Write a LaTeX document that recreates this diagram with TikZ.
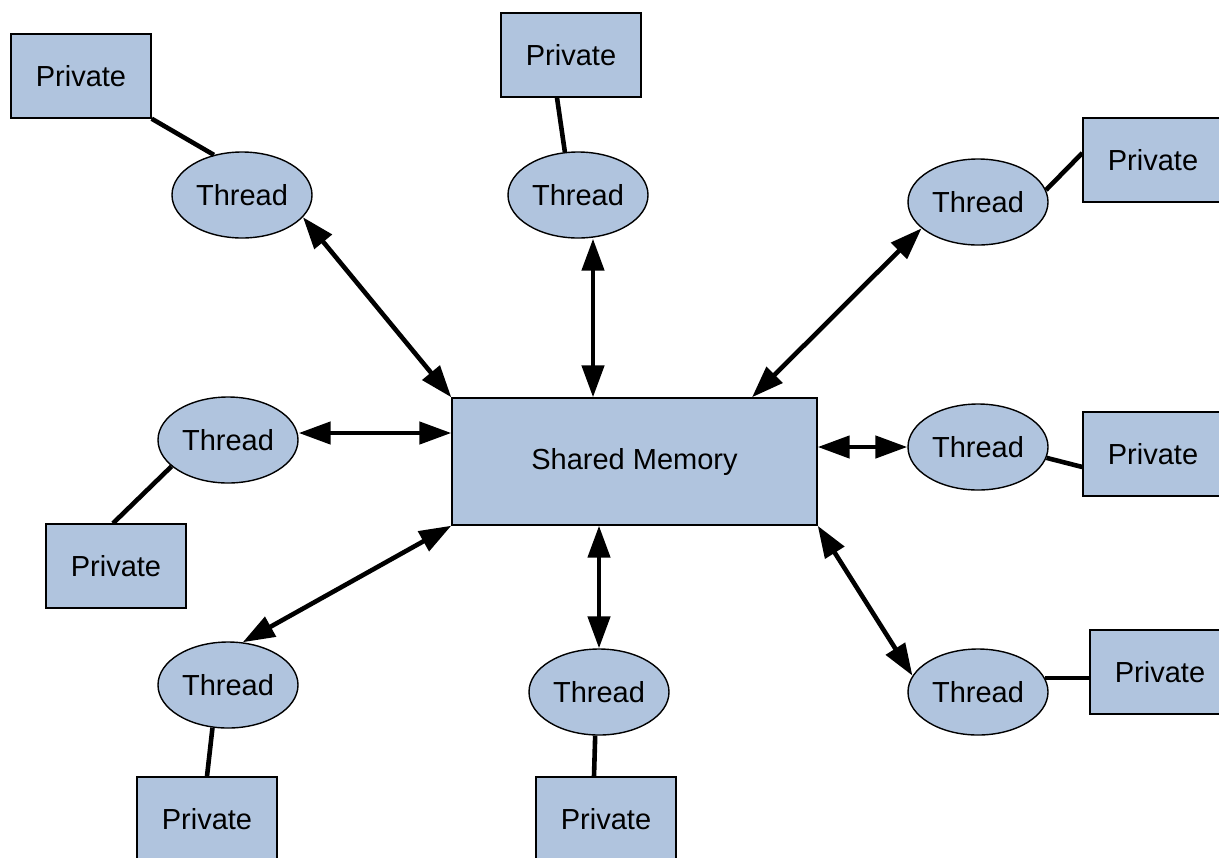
\documentclass[tikz,border=0pt]{standalone}
\usepackage{fontspec}
\setmainfont{Liberation Sans}
\usetikzlibrary{arrows.meta,shapes.geometric}
\definecolor{boxfill}{RGB}{176,196,222}
\tikzset{
  every node/.style={font=\fontsize{14.5}{17}\selectfont},
  privbox/.style={draw=black, line width=0.7pt, fill=boxfill, rectangle,
    minimum width=70pt, minimum height=42pt, inner sep=0pt},
  memory/.style={draw=black, line width=0.7pt, fill=boxfill, rectangle,
    minimum width=182.5pt, minimum height=63.5pt, inner sep=0pt},
  thread/.style={draw=black, line width=0.7pt, fill=boxfill, ellipse,
    minimum width=70pt, minimum height=43pt, inner sep=0pt},
  biarrow/.style={line width=2.3pt,
    {Triangle[length=16pt,width=11pt]}-{Triangle[length=16pt,width=11pt]}},
  link/.style={line width=2.3pt}
}
\begin{document}
\begin{tikzpicture}[x=0.5pt,y=-0.5pt]
\useasboundingbox (0,0) rectangle (1219,857);

% shared memory in the middle
\node[memory] (sm) at (634.5,461.5) {Shared Memory};

% threads
\node[thread] (t1) at (242,195) {Thread};
\node[thread] (t2) at (578,195) {Thread};
\node[thread] (t3) at (978,202) {Thread};
\node[thread] (t4) at (228,440) {Thread};
\node[thread] (t5) at (978,447) {Thread};
\node[thread] (t6) at (228,685) {Thread};
\node[thread] (t7) at (599,692) {Thread};
\node[thread] (t8) at (978,692) {Thread};

% private memories
\node[privbox] (p1) at (81,76) {Private};
\node[privbox] (p2) at (571,55) {Private};
\node[privbox] (p3) at (1153,160) {Private};
\node[privbox] (p4) at (1153,454) {Private};
\node[privbox] (p5) at (116,566) {Private};
\node[privbox] (p6) at (1160,672) {Private};
\node[privbox] (p7) at (207,819) {Private};
\node[privbox] (p8) at (606,819) {Private};

% thread <-> shared memory
\draw[biarrow] (t1.-20) -- (sm.north west);
\draw[biarrow] ([xshift=7.5pt]t2.south) -- ([xshift=7.5pt]t2.south |- sm.north);
\draw[biarrow] (t3.205) -- ([xshift=58.75pt]sm.north);
\draw[biarrow] ([yshift=3.5pt]t4.east) -- ([yshift=3.5pt]t4.east -| sm.west);
\draw[biarrow] (t5.west) -- (t5.west -| sm.east);
\draw[biarrow] (t6.71) -- (sm.south west);
\draw[biarrow] (t7.north) -- (t7.north |- sm.south);
\draw[biarrow] (t8.166) -- (sm.south east);

% thread -- private
\draw[link] (p1.south east) -- (t1.125);
\draw[link] ([xshift=-7pt]p2.south) -- (t2.107);
\draw[link] ([yshift=3.5pt]p3.west) -- (t3.10);
\draw[link] ([yshift=-6.5pt]p4.west) -- (t5.-9);
\draw[link] ([xshift=-1.5pt]p5.north) -- (t4.205);
\draw[link] (t8.12) -- (t8.12 -| p6.west);
\draw[link] (p7.north) -- (t6.250);
\draw[link] ([xshift=-6pt]p8.north) -- (t7.265);
\end{tikzpicture}
\end{document}
